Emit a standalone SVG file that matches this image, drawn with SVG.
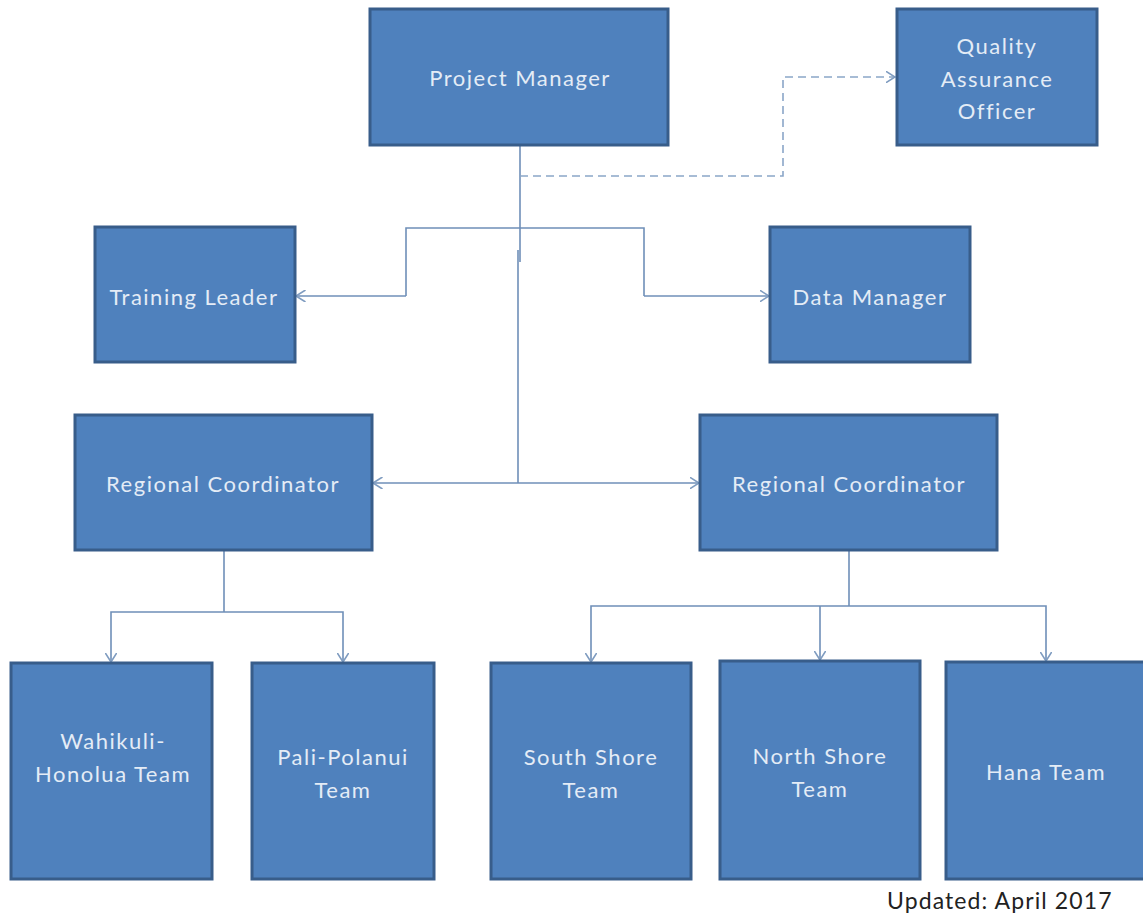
<svg xmlns="http://www.w3.org/2000/svg" width="1143" height="916" viewBox="0 0 1143 916">
  <style>
    .box { fill: #4f81bd; stroke: #385d8a; stroke-width: 3; }
    .label { font-family: Lato, "Open Sans", "Liberation Sans", sans-serif; font-size: 22px; letter-spacing: 1.5px; fill: #e4ecf6; text-anchor: middle; dominant-baseline: central; }
    .conn { fill: none; stroke: #6f8fb8; stroke-width: 1.6; }
    .dash { stroke-dasharray: 8 5; stroke: #8aa6c8; }
    .note { font-family: Lato, "Open Sans", "Liberation Sans", sans-serif; font-size: 23px; letter-spacing: 1.1px; fill: #222; }
  </style>
  <defs>
    <marker id="arrow" viewBox="0 0 10 12" refX="9.5" refY="6" markerWidth="10" markerHeight="12" markerUnits="userSpaceOnUse" orient="auto-start-reverse">
      <path d="M0,0 L9.5,6 L0,12" fill="none" stroke="#7f9cc0" stroke-width="1.6"/>
    </marker>
  </defs>
  <rect width="1143" height="916" fill="#ffffff"/>

  <g id="connectors">
    <!-- Project Manager trunk -->
    <path class="conn" d="M520,145 V262"/>
    <path class="conn" d="M518,250 V483"/>
    <!-- dotted line to Quality Assurance -->
    <path class="conn dash" d="M520,176 H783 V77 H895" marker-end="url(#arrow)"/>
    <!-- staff branch -->
    <path class="conn" d="M406,296 V228 H644 V296"/>
    <path class="conn" d="M406,296 H296" marker-end="url(#arrow)"/>
    <path class="conn" d="M644,296 H769" marker-end="url(#arrow)"/>
    <!-- regional coordinators -->
    <path class="conn" d="M373,483 H699" marker-start="url(#arrow)" marker-end="url(#arrow)"/>
    <!-- left region teams -->
    <path class="conn" d="M224,551 V612"/>
    <path class="conn" d="M111,662 V612 H343 V662" marker-start="url(#arrow)" marker-end="url(#arrow)"/>
    <!-- right region teams -->
    <path class="conn" d="M849,551 V606"/>
    <path class="conn" d="M591,662 V606 H1046 V661" marker-start="url(#arrow)" marker-end="url(#arrow)"/>
    <path class="conn" d="M820,606 V660" marker-end="url(#arrow)"/>
  </g>

  <g id="project-manager">
    <rect class="box" x="370" y="9" width="298" height="136"/>
    <text class="label" x="520" y="77">Project Manager</text>
  </g>
  <g id="quality-assurance">
    <rect class="box" x="897" y="9" width="200" height="136"/>
    <text class="label" x="997" y="45">Quality</text>
    <text class="label" x="997" y="78">Assurance</text>
    <text class="label" x="997" y="110">Officer</text>
  </g>
  <g id="training-leader">
    <rect class="box" x="95" y="227" width="200" height="135"/>
    <text class="label" x="194" y="296">Training Leader</text>
  </g>
  <g id="data-manager">
    <rect class="box" x="770" y="227" width="200" height="135"/>
    <text class="label" x="870" y="296">Data Manager</text>
  </g>
  <g id="regional-coordinator-west">
    <rect class="box" x="75" y="415" width="297" height="135"/>
    <text class="label" x="223" y="483">Regional Coordinator</text>
  </g>
  <g id="regional-coordinator-east">
    <rect class="box" x="700" y="415" width="297" height="135"/>
    <text class="label" x="849" y="483">Regional Coordinator</text>
  </g>
  <g id="wahikuli-honolua">
    <rect class="box" x="11" y="663" width="201" height="216"/>
    <text class="label" x="113" y="740">Wahikuli-</text>
    <text class="label" x="113" y="773">Honolua Team</text>
  </g>
  <g id="pali-polanui">
    <rect class="box" x="252" y="663" width="182" height="216"/>
    <text class="label" x="343" y="756">Pali-Polanui</text>
    <text class="label" x="343" y="789">Team</text>
  </g>
  <g id="south-shore">
    <rect class="box" x="491" y="663" width="200" height="216"/>
    <text class="label" x="591" y="756">South Shore</text>
    <text class="label" x="591" y="789">Team</text>
  </g>
  <g id="north-shore">
    <rect class="box" x="720" y="661" width="200" height="218"/>
    <text class="label" x="820" y="755">North Shore</text>
    <text class="label" x="820" y="788">Team</text>
  </g>
  <g id="hana">
    <rect class="box" x="946" y="662" width="200" height="217"/>
    <text class="label" x="1046" y="771">Hana Team</text>
  </g>

  <text class="note" x="887" y="909">Updated: April 2017</text>
</svg>
